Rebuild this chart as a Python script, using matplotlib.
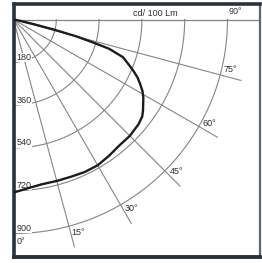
import numpy as np
import matplotlib
matplotlib.use("Agg")
import matplotlib.pyplot as plt

# ---- data ----
angles_deg = [0, 5, 10, 15, 20, 25, 30, 35, 40, 45, 50, 53, 55, 59, 61, 63, 65,
              67, 69, 71, 73, 74, 75, 76, 77, 78, 80, 85, 90]
candela = [728, 712, 703, 703, 704, 708, 708, 700, 692, 692, 686, 678, 665, 637,
           620, 598, 575, 546, 515, 487, 420, 340, 270, 170, 90, 40, 12, 0, 0]

ring_values = [180, 360, 540, 720, 900]
ring_labels = ["180", "360", "540", "720", "900"]
ray_angles = [0, 15, 30, 45, 60, 75, 90]
ray_labels = ["0°", "15°", "30°", "45°", "60°", "75°", "90°"]
unit_label = "cd/ 100 Lm"

plt.rcParams["font.family"] = ["Liberation Sans", "DejaVu Sans"]

W, H = 262, 263
fig = plt.figure(figsize=(W / 100, H / 100), dpi=100)
fig.patch.set_facecolor("white")

# frame in pixels
left_px, right_px, top_px, bot_px = 13.5, 260.0, 3.5, 257.0
cx_px, cy_px = 13.5, 19.5
scale = 900 / 214.0  # cd per pixel

ax = fig.add_axes([left_px / W, (H - bot_px) / H,
                   (right_px - left_px) / W, (bot_px - top_px) / H])
ax.set_xlim(0, (right_px - left_px) * scale)
ax.set_ylim(-(bot_px - cy_px) * scale, (cy_px - top_px) * scale)
ax.set_xticks([])
ax.set_yticks([])
frame_col = "#2a323c"
for side, lw, col in [("left", 2.6, frame_col), ("top", 2.6, frame_col),
                      ("bottom", 2.8, frame_col), ("right", 1.6, "#5c6670")]:
    ax.spines[side].set_color(col)
    ax.spines[side].set_linewidth(lw)


def pol(theta_deg, r):
    t = np.radians(np.asarray(theta_deg, dtype=float))
    r = np.asarray(r, dtype=float)
    return r * np.sin(t), -r * np.cos(t)


grid_col = "#858585"
# arcs
tt = np.linspace(0, 90, 200)
for rv in ring_values:
    x, y = pol(tt, np.full_like(tt, rv))
    ax.plot(x, y, color=grid_col, lw=0.8, zorder=1)
# rays
for a in ray_angles[1:-1]:
    x, y = pol([a, a], [0, 990])
    ax.plot(x, y, color=grid_col, lw=0.8, zorder=1)
ax.axhline(0, color=grid_col, lw=0.9, zorder=1)

# ring labels
for rv, lab in zip(ring_values, ring_labels):
    ax.text(12, -rv + 21, lab, fontsize=6.5, color="#303030", ha="left",
            va="center", zorder=3,
            bbox=dict(facecolor="white", edgecolor="none", pad=0.2))

# ray labels
for a, lab in zip(ray_angles, ray_labels):
    x, y = pol(a + 2, 935)
    ax.text(x, y, lab, fontsize=6.5, color="#303030", ha="center",
            va="center", zorder=3)

ax.text(595, 27, unit_label, fontsize=6.5, color="#303030", ha="center",
        va="center", zorder=3)

# distribution curve
x, y = pol(angles_deg, candela)
ax.plot(x, y, color="#1c1c1c", lw=1.7, zorder=4, solid_capstyle="round")

fig.savefig("out.png", dpi=100, facecolor="white")
